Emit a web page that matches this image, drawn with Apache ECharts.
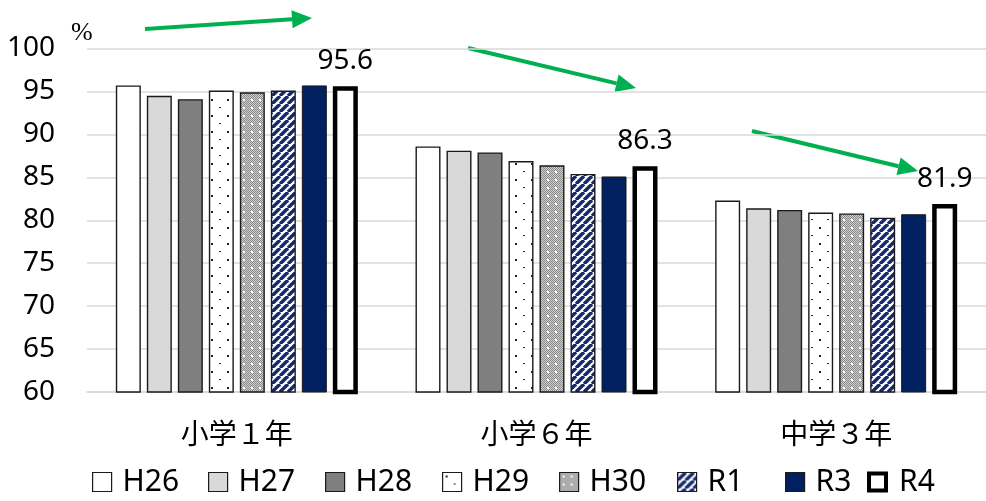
<!DOCTYPE html>
<html><head><meta charset="utf-8">
<script src="https://cdn.jsdelivr.net/npm/echarts@6/dist/echarts.min.js"></script>
<style>html,body{margin:0;padding:0;background:#fff}#c{width:986px;height:501px}</style>
</head><body><div id="c"></div>
<script>
const categories = ['小学１年', '小学６年', '中学３年'];
const seriesNames = ['H26', 'H27', 'H28', 'H29', 'H30', 'R1', 'R3', 'R4'];
const H26 = [95.7, 88.6, 82.3];
const H27 = [94.5, 88.1, 81.4];
const H28 = [94.1, 87.9, 81.2];
const H29 = [95.1, 86.9, 80.9];
const H30 = [94.9, 86.4, 80.8];
const R1  = [95.1, 85.4, 80.3];
const R3  = [95.7, 85.1, 80.7];
const R4  = [95.6, 86.3, 81.9];
const yTicks = [60, 65, 70, 75, 80, 85, 90, 95, 100];

function pat(size, draw) {
  const c = document.createElement('canvas');
  c.width = size; c.height = size;
  const g = c.getContext('2d');
  draw(g, size);
  return c;
}
const dotPat = pat(16, (g, s) => {
  g.fillStyle = '#fff'; g.fillRect(0, 0, s, s);
  g.fillStyle = '#222';
  g.fillRect(3, 3, 2, 2);
  g.fillRect(11, 11, 2, 1);
});
const checkPat = pat(8, (g, s) => {
  g.fillStyle = '#cfcfcf'; g.fillRect(0, 0, s, s);
  g.fillStyle = '#8a8a8a';
  for (let y = 0; y < s; y++) for (let x = 0; x < s; x++) if ((x + y) % 2 === 0) g.fillRect(x, y, 1, 1);
  g.fillStyle = '#fff';
  g.fillRect(3, 3, 2, 2);
});
const stripePat = pat(8, (g, s) => {
  g.fillStyle = '#fff'; g.fillRect(0, 0, s, s);
  g.strokeStyle = '#15296a'; g.lineWidth = 3.4;
  for (let k = -2; k <= 2; k++) {
    g.beginPath(); g.moveTo(k * s, s); g.lineTo(k * s + s, 0); g.stroke();
  }
});

const styles = [
  { color: '#ffffff', borderColor: '#1a1a1a', borderWidth: 1.4 },
  { color: '#d9d9d9', borderColor: '#1a1a1a', borderWidth: 1.4 },
  { color: '#7f7f7f', borderColor: '#1a1a1a', borderWidth: 1.4 },
  { color: { image: dotPat, repeat: 'repeat' }, borderColor: '#1a1a1a', borderWidth: 1.4 },
  { color: { image: checkPat, repeat: 'repeat' }, borderColor: '#1a1a1a', borderWidth: 1.4 },
  { color: { image: stripePat, repeat: 'repeat' }, borderColor: '#1a1a1a', borderWidth: 1.4 },
  { color: '#002060', borderColor: '#1a1a1a', borderWidth: 1 },
  { color: '#ffffff', borderColor: '#000000', borderWidth: 4.5 }
];
const values = [H26, H27, H28, H29, H30, R1, R3, R4];
const FONT = '"Noto Sans", "Noto Sans CJK JP", sans-serif';
const CJK = '"Noto Sans CJK JP", sans-serif';

const series = seriesNames.map((n, i) => ({
  name: n, type: 'bar', data: values[i],
  barWidth: 25, barGap: '24%',
  itemStyle: styles[i],
  label: i === 7 ? { show: true, position: 'top', distance: 11, fontSize: 28, color: '#000', fontFamily: FONT } : { show: false },
  emphasis: { disabled: true },
  animation: false
}));

const legendLeft = [92, 208, 325, 442, 559, 677, 785, 867];
const legends = seriesNames.map((n, i) => ({
  data: [{ name: n, icon: 'rect',
    itemStyle: i === 7 ? { color: '#fff', borderColor: '#000', borderWidth: 4 } : { borderWidth: 1.2, borderColor: '#1a1a1a' } }],
  left: legendLeft[i], top: 467, padding: 0,
  itemWidth: i === 7 ? 17 : 19, itemHeight: i === 7 ? 17 : 19, selectedMode: false,
  textStyle: { fontSize: 30, color: '#000', fontFamily: FONT, padding: [0, 0, 0, i === 7 ? 8 : 6] }
}));

const chart = echarts.init(document.getElementById('c'), null, { renderer: 'canvas' });
const green = '#00b050';
function arrow(x1, y1, x2, y2) {
  const dx = x2 - x1, dy = y2 - y1, L = Math.hypot(dx, dy);
  const ux = dx / L, uy = dy / L, head = 20, hw = 9;
  const bx = x2 - ux * head, by = y2 - uy * head;
  return [
    { type: 'line', shape: { x1, y1, x2: bx, y2: by }, style: { stroke: green, lineWidth: 4 }, silent: true },
    { type: 'polygon', shape: { points: [[x2, y2], [bx - uy * hw, by + ux * hw], [bx + uy * hw, by - ux * hw]] }, style: { fill: green }, silent: true }
  ];
}
chart.setOption({
  animation: false,
  grid: { left: 87, right: -7, top: 48.5, bottom: 109, containLabel: false },
  legend: legends,
  xAxis: {
    type: 'category', data: categories,
    axisLine: { lineStyle: { color: '#d9d9d9', width: 1.5 } },
    axisTick: { show: false },
    axisLabel: { fontSize: 28, color: '#000', fontFamily: CJK, margin: 27 }
  },
  yAxis: {
    type: 'value', min: 60, max: 100, interval: 5,
    axisLine: { show: false }, axisTick: { show: false },
    splitLine: { lineStyle: { color: '#d9d9d9', width: 1.5 } },
    axisLabel: { fontSize: 28, color: '#000', fontFamily: FONT, margin: 32,
      formatter: v => yTicks.includes(v) ? String(v) : '' }
  },
  graphic: [
    { type: 'text', left: 71, top: 20, style: { text: '%', fontSize: 26, fill: '#000', fontFamily: '"Liberation Serif", serif' } },
    ...arrow(145, 29, 312, 18),
    ...arrow(468, 48, 636, 88),
    ...arrow(752, 131, 918, 171)
  ],
  series
});
</script></body></html>
